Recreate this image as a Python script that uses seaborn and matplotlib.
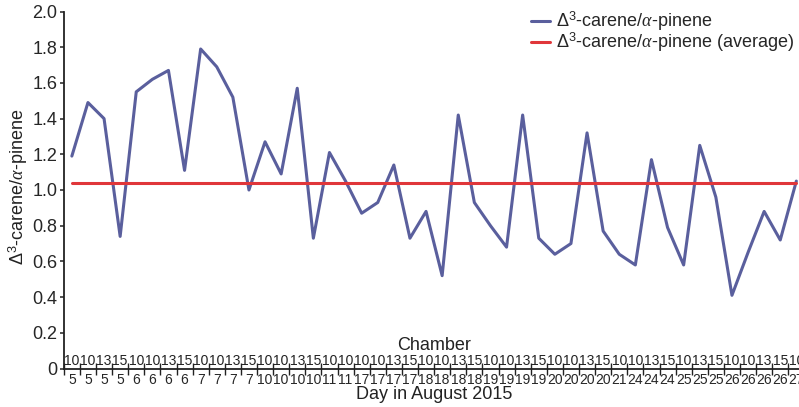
import numpy as np
import pandas as pd
import matplotlib
matplotlib.use("Agg")
import matplotlib.pyplot as plt
import matplotlib.transforms as mtransforms
from matplotlib.ticker import FixedLocator, NullFormatter
import seaborn as sns

# Sampling sequence: chamber number and day of month for each measurement
chambers = [10, 10, 13, 15, 10, 10, 13, 15, 10, 10, 13, 15, 10, 10, 13, 15,
            10, 10, 10, 10, 13, 15, 10, 10, 13, 15, 10, 10, 13, 15, 10, 10,
            13, 15, 10, 10, 13, 15, 10, 13, 15, 10, 10, 13, 15, 10]
days = [5, 5, 5, 5, 6, 6, 6, 6, 7, 7, 7, 7, 10, 10, 10, 10,
        11, 11, 17, 17, 17, 17, 18, 18, 18, 18, 19, 19, 19, 19, 20, 20,
        20, 20, 21, 24, 24, 24, 25, 25, 25, 26, 26, 26, 26, 27]
# Delta-3-carene / alpha-pinene ratio
ratio = [1.19, 1.49, 1.40, 0.74, 1.55, 1.62, 1.67, 1.11, 1.79, 1.69, 1.52, 1.00,
         1.27, 1.09, 1.57, 0.73, 1.21, 1.05, 0.87, 0.93, 1.14, 0.73, 0.88, 0.52,
         1.42, 0.93, 0.80, 0.68, 1.42, 0.73, 0.64, 0.70, 1.32, 0.77, 0.64, 0.58,
         1.17, 0.79, 0.58, 1.25, 0.96, 0.41, 0.65, 0.88, 0.72, 1.05]

series_label = r"$\Delta^3$-carene/$\alpha$-pinene"
avg_label = r"$\Delta^3$-carene/$\alpha$-pinene (average)"

df = pd.DataFrame({"idx": np.arange(len(ratio)), "ratio": ratio})
df["average"] = np.mean(ratio)

sns.set_style("ticks")
plt.rcParams["font.family"] = ["Liberation Sans", "DejaVu Sans"]
plt.rcParams["mathtext.fontset"] = "custom"
plt.rcParams["mathtext.rm"] = "Liberation Sans"
plt.rcParams["mathtext.it"] = "Liberation Serif:italic"
plt.rcParams["mathtext.bf"] = "Liberation Sans:bold"

W, H = 799, 407
fig = plt.figure(figsize=(W / 100, H / 100), dpi=100)
x0, x1, ytop, ybot = 63.8, 804.4, 11.5, 368.5
ax = fig.add_axes([x0 / W, 1 - ybot / H, (x1 - x0) / W, (ybot - ytop) / H])

blue = "#5a5f9d"
red = "#e0363a"
sns.lineplot(data=df, x="idx", y="ratio", ax=ax, color=blue, lw=2.2,
             label=series_label)
sns.lineplot(data=df, x="idx", y="average", ax=ax, color=red, lw=2.2,
             label=avg_label)

ax.set_xlim(-0.5, len(ratio) - 0.5)
ax.set_ylim(0, 2.0)
ax.set_yticks(np.arange(0, 2.01, 0.2))
ax.set_yticklabels(["0"] + [f"{v:.1f}" for v in np.arange(0.2, 2.01, 0.2)])

# day numbers below the axis, tick marks at category boundaries
ax.set_xticks(np.arange(len(ratio)))
ax.set_xticklabels([str(d) for d in days], fontsize=10)
ax.xaxis.set_minor_locator(FixedLocator(np.arange(-0.5, len(ratio), 1.0)))
ax.xaxis.set_minor_formatter(NullFormatter())
ax.tick_params(axis="x", which="major", length=0, pad=3)
ax.tick_params(axis="x", which="minor", direction="inout", length=9,
               width=1.0, color="#222222")
ax.tick_params(axis="y", direction="out", length=3, width=1.1,
               labelsize=13, pad=1.5, color="#222222")

# chamber numbers just above the axis line
trans = mtransforms.offset_copy(
    mtransforms.blended_transform_factory(ax.transData, ax.transAxes),
    fig=fig, x=0, y=2.3, units="points")
for i, c in enumerate(chambers):
    ax.text(i, 0, str(c), transform=trans, ha="center", va="baseline",
            fontsize=10, color="#222222")

ax.text(0.5, 0.052, "Chamber", transform=ax.transAxes, ha="center",
        va="baseline", fontsize=13, color="#222222")
ax.set_xlabel("Day in August 2015", fontsize=13, color="#222222")
ax.xaxis.set_label_coords(0.5, -0.05)
ax.set_ylabel(series_label, fontsize=13, color="#222222")
ax.yaxis.set_label_coords(-0.046, 0.51)

for side in ("top", "right"):
    ax.spines[side].set_visible(False)
for side in ("left", "bottom"):
    ax.spines[side].set_linewidth(1.3)
    ax.spines[side].set_color("#222222")

leg = ax.legend(loc="upper right", bbox_to_anchor=(794 / W, 1 - 10 / H),
                bbox_transform=fig.transFigure, frameon=False, fontsize=13,
                borderpad=0, borderaxespad=0, labelspacing=-0.15,
                handlelength=1.1, handletextpad=0.3)

fig.savefig("out.png", dpi=100)
